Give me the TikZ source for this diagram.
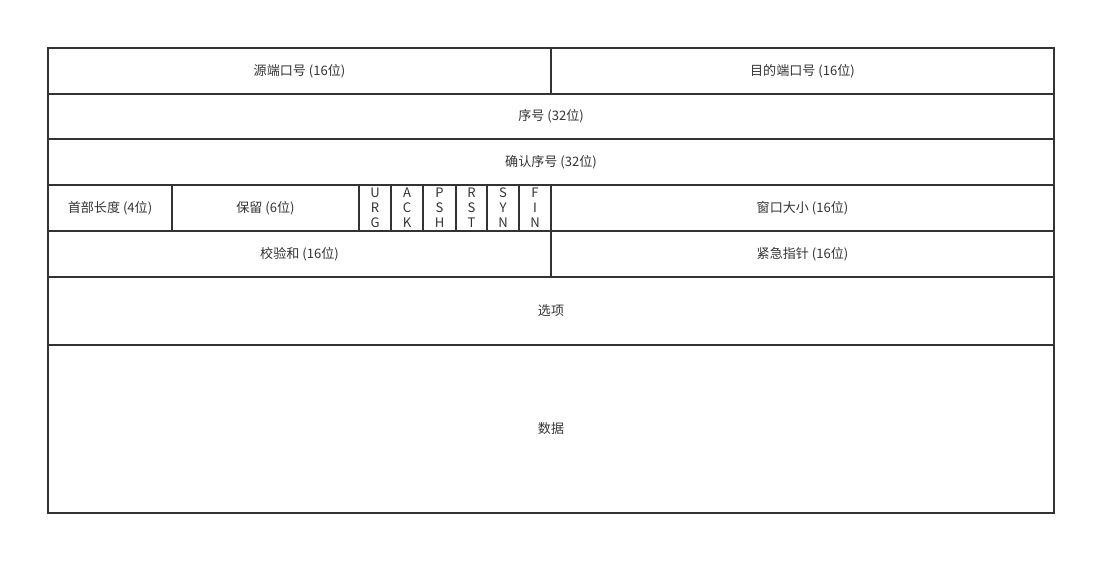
\documentclass[tikz,border=0pt]{standalone}
\usepackage{fontspec}
\setmainfont{Noto Sans CJK SC}
\definecolor{linegray}{HTML}{333333}

\tikzset{
  cell/.style n args={2}{draw=linegray, line width=1.5pt, text=linegray,
    minimum width=#1*0.75pt, minimum height=#2*0.75pt, inner sep=0pt, outer sep=0pt,
    anchor=north west, font=\fontsize{9.8pt}{11.2pt}\selectfont, align=center},
}

\begin{document}
\begin{tikzpicture}[x=0.75pt, y=-0.75pt]
  \useasboundingbox (0,0) rectangle (1102,561);

  \node (srcport)[cell={503}{46}] at (48, 48) {源端口号 (16位)};
  \node (dstport)[cell={503}{46}] at (551, 48) {目的端口号 (16位)};
  \node (seq)[cell={1006}{45}] at (48, 94) {序号 (32位)};
  \node (ack)[cell={1006}{46}] at (48, 139) {确认序号 (32位)};

  \node (hdrlen)[cell={124}{46}] at (48, 185) {首部长度 (4位)};
  \node (resv)[cell={187}{46}] at (172, 185) {保留 (6位)};
  \node (urg)[cell={32}{46}] at (359, 185) {U\\R\\G};
  \node (ackf)[cell={32}{46}] at (391, 185) {A\\C\\K};
  \node (psh)[cell={33}{46}] at (423, 185) {P\\S\\H};
  \node (rst)[cell={31}{46}] at (456, 185) {R\\S\\T};
  \node (syn)[cell={32}{46}] at (487, 185) {S\\Y\\N};
  \node (fin)[cell={32}{46}] at (519, 185) {F\\I\\N};
  \node (window)[cell={503}{46}] at (551, 185) {窗口大小 (16位)};

  \node (checksum)[cell={503}{46}] at (48, 231) {校验和 (16位)};
  \node (urgptr)[cell={503}{46}] at (551, 231) {紧急指针 (16位)};
  \node (options)[cell={1006}{68}] at (48, 277) {选项};
  \node (data)[cell={1006}{168}] at (48, 345) {数据};
\end{tikzpicture}
\end{document}
